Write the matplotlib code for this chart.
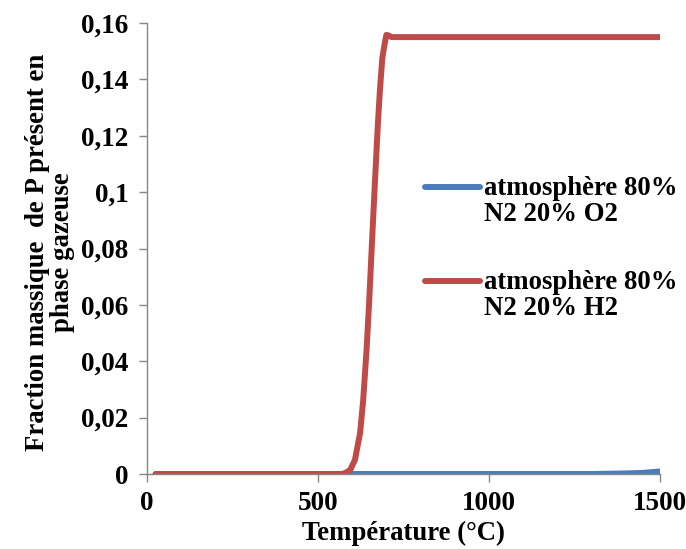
import numpy as np
from matplotlib import pyplot as plt
from matplotlib.legend_handler import HandlerLine2D
from matplotlib.ticker import FuncFormatter

# temperatures (°C) and fraction of P in gas phase
temp_h2 = [25, 100, 200, 300, 400, 500, 550, 570, 580, 594, 608, 623, 632, 642,
           650, 657, 661, 665, 670, 675, 681, 688, 694, 700, 706,
           715, 800, 900, 1000, 1100, 1200, 1300, 1400, 1500]
frac_h2 = [0, 0, 0, 0, 0, 0, 0, 0, 0.0004, 0.0014, 0.005, 0.0145, 0.026, 0.044,
           0.062, 0.080, 0.090, 0.100, 0.112, 0.124, 0.136, 0.1475, 0.152, 0.1558, 0.1556,
           0.155, 0.155, 0.155, 0.155, 0.155, 0.155, 0.155, 0.155, 0.155]

temp_o2 = [25, 100, 200, 300, 400, 500, 600, 700, 800, 900, 1000, 1100, 1200, 1300, 1350, 1400, 1450, 1500]
frac_o2 = [0, 0, 0, 0, 0, 0, 0, 0, 0, 0, 0, 0, 0, 0, 0.0001, 0.0002, 0.0004, 0.0009]

lab_o2 = "atmosphère 80%\nN2 20% O2"
lab_h2 = "atmosphère 80%\nN2 20% H2"

plt.rcParams['font.family'] = ['Liberation Serif', 'DejaVu Serif']
plt.rcParams['font.weight'] = 'bold'
gris = '#868686'
fs = 19.3


class FirstLine(HandlerLine2D):
    # Excel puts the legend line next to the first text line
    def create_artists(self, legend, orig_handle, xdescent, ydescent, width, height, fontsize, trans):
        arts = super().create_artists(legend, orig_handle, xdescent, ydescent, width, height, fontsize, trans)
        for a in arts:
            a.set_ydata(np.asarray(a.get_ydata()) + 0.55 * fontsize)
        return arts


fig = plt.figure(figsize=(6.86, 5.49), dpi=100)
ax = fig.add_axes([147/686, 75/549, 513/686, 451/549])

l1, = ax.plot(temp_o2, frac_o2, color='#4A7EBB', lw=4.3, solid_capstyle='round', label=lab_o2)
l2, = ax.plot(temp_h2, frac_h2, color='#BE4B48', lw=4.3, solid_capstyle='round', label=lab_h2)

ax.set_xlim(0, 1500)
ax.set_ylim(0, 0.16)
ax.set_xticks([0, 500, 1000, 1500])
ax.set_yticks(np.arange(0, 0.161, 0.02))
ax.yaxis.set_major_formatter(FuncFormatter(lambda v, p: ('%g' % round(v, 2)).replace('.', ',')))

for s in ['top', 'right']:
    ax.spines[s].set_visible(False)
for s in ['left', 'bottom']:
    ax.spines[s].set_color(gris)
    ax.spines[s].set_linewidth(1)
ax.tick_params(direction='out', length=5.8, width=1, color=gris, labelsize=19.5)
ax.tick_params(axis='x', pad=6.5)
ax.tick_params(axis='y', pad=7.5)

ax.set_xlabel('Température (°C)', fontsize=fs, fontweight='bold')
ax.xaxis.set_label_coords(0.5, -0.104)
ax.set_ylabel('Fraction massique  de P présent en\nphase gazeuse', fontsize=fs,
              fontweight='bold', linespacing=1.0)
ax.yaxis.set_label_coords(-0.14, 0.491)

leg = ax.legend(handles=[l1, l2], handler_map={l1: FirstLine(), l2: FirstLine()},
                loc='upper left', bbox_to_anchor=(0.542, 0.66), frameon=False,
                fontsize=fs, handlelength=2.05, handletextpad=0.15, borderpad=0,
                borderaxespad=0, labelspacing=1.6)
for t in leg.get_texts():
    t.set_linespacing(1.05)
for h in leg.get_lines():
    h.set_solid_capstyle('round')

fig.savefig('out.png', dpi=100)
